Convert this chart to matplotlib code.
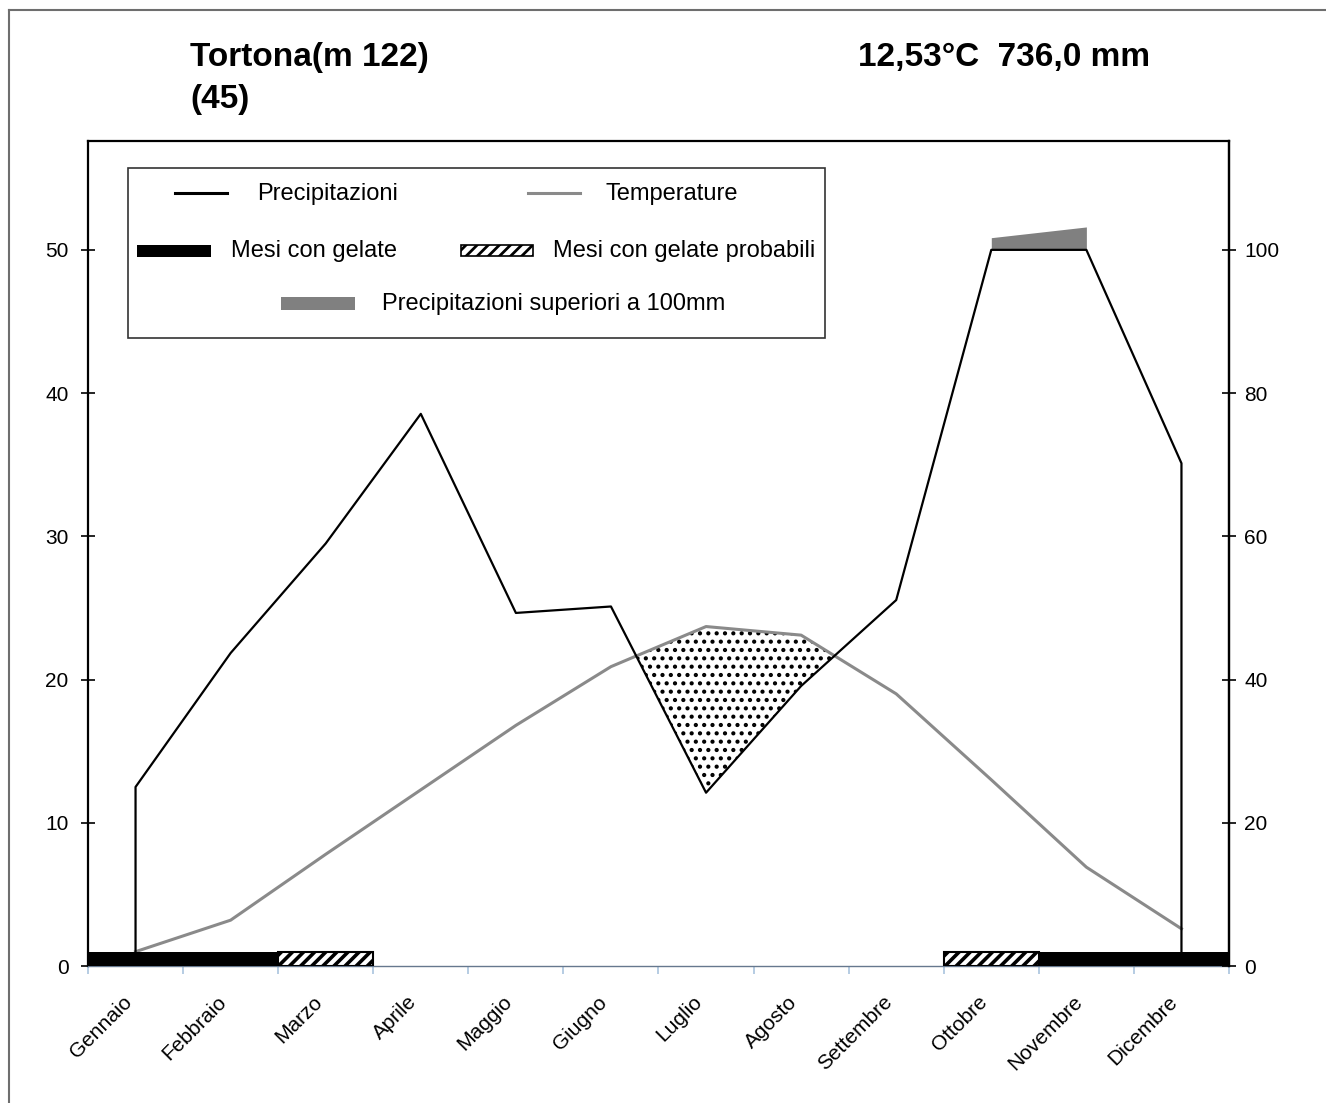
import matplotlib
matplotlib.use("Agg")
import matplotlib.pyplot as plt
from matplotlib.patches import Rectangle
from matplotlib.lines import Line2D
import numpy as np

plt.rcParams['font.family'] = ['Liberation Sans', 'DejaVu Sans']

# dati climatici Tortona
mesi = ['Gennaio', 'Febbraio', 'Marzo', 'Aprile', 'Maggio', 'Giugno',
        'Luglio', 'Agosto', 'Settembre', 'Ottobre', 'Novembre', 'Dicembre']
temperature = [1.0, 3.2, 7.8, 12.3, 16.8, 20.9, 23.7, 23.1, 19.0, 13.0, 6.9, 2.6]
precipitazioni = [25.0, 43.7, 59.0, 77.1, 49.3, 50.2, 24.2, 39.1, 51.1, 117.0, 132.0, 70.2]
gelate = [1, 1, 0, 0, 0, 0, 0, 0, 0, 0, 1, 1]
gelate_probabili = [0, 0, 1, 0, 0, 0, 0, 0, 0, 1, 0, 0]
titolo = 'Tortona(m 122)'
sottotitolo = '(45)'
medie = '12,53°C  736,0 mm'
temp_ticks = [0, 10, 20, 30, 40, 50]
prec_ticks = [0, 20, 40, 60, 80, 100]

W, H = 1326, 1103


def fx(x):
    return x / W


def fy(y):
    return 1 - y / H


def main():
    fig = plt.figure(figsize=(W / 100, H / 100), dpi=100)
    ax = fig.add_axes([fx(88), fy(966), fx(1229) - fx(88), fy(141) - fy(966)])

    x = np.arange(12)
    t = np.array(temperature)
    p = np.array(precipitazioni)
    # scala Walter-Lieth: 2 mm per grado fino a 100 mm
    p_sc = np.minimum(p, 100) / 2
    p_top = 50 + np.maximum(p - 100, 0) / 20

    # periodo arido
    with plt.rc_context({'hatch.linewidth': 1.8}):
        ax.fill_between(x, p_sc, t, where=p_sc < t, interpolate=True,
                        facecolor='none', edgecolor='black', hatch='..',
                        linewidth=0, zorder=1)

    ax.fill_between(x, 50, p_top, where=p > 100, color='#808080',
                    linewidth=0, zorder=1)

    ax.plot(x, t, color='#8a8a8a', lw=2.2, zorder=2)
    ax.plot(np.r_[0, x, 11], np.r_[0, p_sc, 0], color='black', lw=1.6, zorder=3)

    g = np.array(gelate, dtype=bool)
    gp = np.array(gelate_probabili, dtype=bool)
    ax.bar(x[g], 1.0, width=1.0, color='black', linewidth=0, zorder=4)
    with plt.rc_context({'hatch.linewidth': 2.6}):
        ax.bar(x[gp], 1.0, width=1.0, facecolor='white', edgecolor='black',
               hatch='///', linewidth=1.5, zorder=4)

    ax.set_xlim(-0.5, 11.5)
    ax.set_ylim(0, 57.6)
    ax.set_yticks(temp_ticks)
    ax.tick_params(axis='y', direction='inout', length=10, width=1.2,
                   labelsize=15, pad=9)
    ax.set_xticks(x)
    ax.set_xticklabels(mesi, rotation=45, ha='right', fontsize=15)
    ax.set_xticks(np.arange(-0.5, 12, 1), minor=True)
    ax.tick_params(axis='x', which='major', length=0, pad=19)
    ax.tick_params(axis='x', which='minor', length=6, width=1.2,
                   color='#a9c3de')

    for side in ['top', 'left', 'right']:
        ax.spines[side].set_color('black')
        ax.spines[side].set_linewidth(1.6)
    ax.spines['bottom'].set_color('#66788e')
    ax.spines['bottom'].set_linewidth(1.0)

    ax2 = ax.twinx()
    ax2.set_ylim(0, 115.2)
    ax2.set_yticks(prec_ticks)
    ax2.tick_params(axis='y', direction='inout', length=10, width=1.2,
                    labelsize=15, pad=6)
    for side in ['top', 'left', 'bottom']:
        ax2.spines[side].set_visible(False)
    ax2.spines['right'].set_linewidth(1.6)

    # titoli
    fig.text(fx(190), fy(66), titolo, fontsize=24, fontweight='bold',
             va='baseline')
    fig.text(fx(190), fy(108), sottotitolo, fontsize=24, fontweight='bold',
             va='baseline')
    fig.text(fx(858), fy(66), medie, fontsize=24, fontweight='bold',
             va='baseline')

    # legenda disegnata a mano
    tr = fig.transFigure
    fig.add_artist(Rectangle((fx(128), fy(338)), fx(825) - fx(128),
                             fy(168) - fy(338), transform=tr,
                             facecolor='white', edgecolor='#333333', lw=1.2))
    fig.add_artist(Line2D([fx(175), fx(227)], [fy(193), fy(193)],
                          transform=tr, color='black', lw=2.2))
    fig.text(fx(257), fy(194), 'Precipitazioni', fontsize=17, va='center')
    fig.add_artist(Line2D([fx(528), fx(580)], [fy(193), fy(193)],
                          transform=tr, color='#8a8a8a', lw=2.2))
    fig.text(fx(606), fy(194), 'Temperature', fontsize=17, va='center')

    fig.add_artist(Rectangle((fx(137), fy(257)), fx(211) - fx(137),
                             fy(245) - fy(257), transform=tr,
                             facecolor='black', lw=0))
    fig.text(fx(231), fy(251), 'Mesi con gelate', fontsize=17, va='center')
    with plt.rc_context({'hatch.linewidth': 2.0}):
        fig.add_artist(Rectangle((fx(461), fy(256)), fx(533) - fx(461),
                                 fy(245) - fy(256), transform=tr,
                                 facecolor='white', edgecolor='black',
                                 hatch='///', lw=1.2))
    fig.text(fx(553), fy(251), 'Mesi con gelate probabili', fontsize=17,
             va='center')

    fig.add_artist(Rectangle((fx(281), fy(310)), fx(355) - fx(281),
                             fy(297) - fy(310), transform=tr,
                             facecolor='#808080', lw=0))
    fig.text(fx(382), fy(304), 'Precipitazioni superiori a 100mm',
             fontsize=17, va='center')

    # bordo dell'immagine
    fig.add_artist(Line2D([fx(8.5), fx(8.5)], [fy(10), 0], transform=tr,
                          color='#6e6e6e', lw=1.5))
    fig.add_artist(Line2D([fx(8.5), 1], [fy(10), fy(10)], transform=tr,
                          color='#6e6e6e', lw=1.5))

    fig.savefig('out.png', dpi=100, facecolor='white')


if __name__ == "__main__":
    main()
